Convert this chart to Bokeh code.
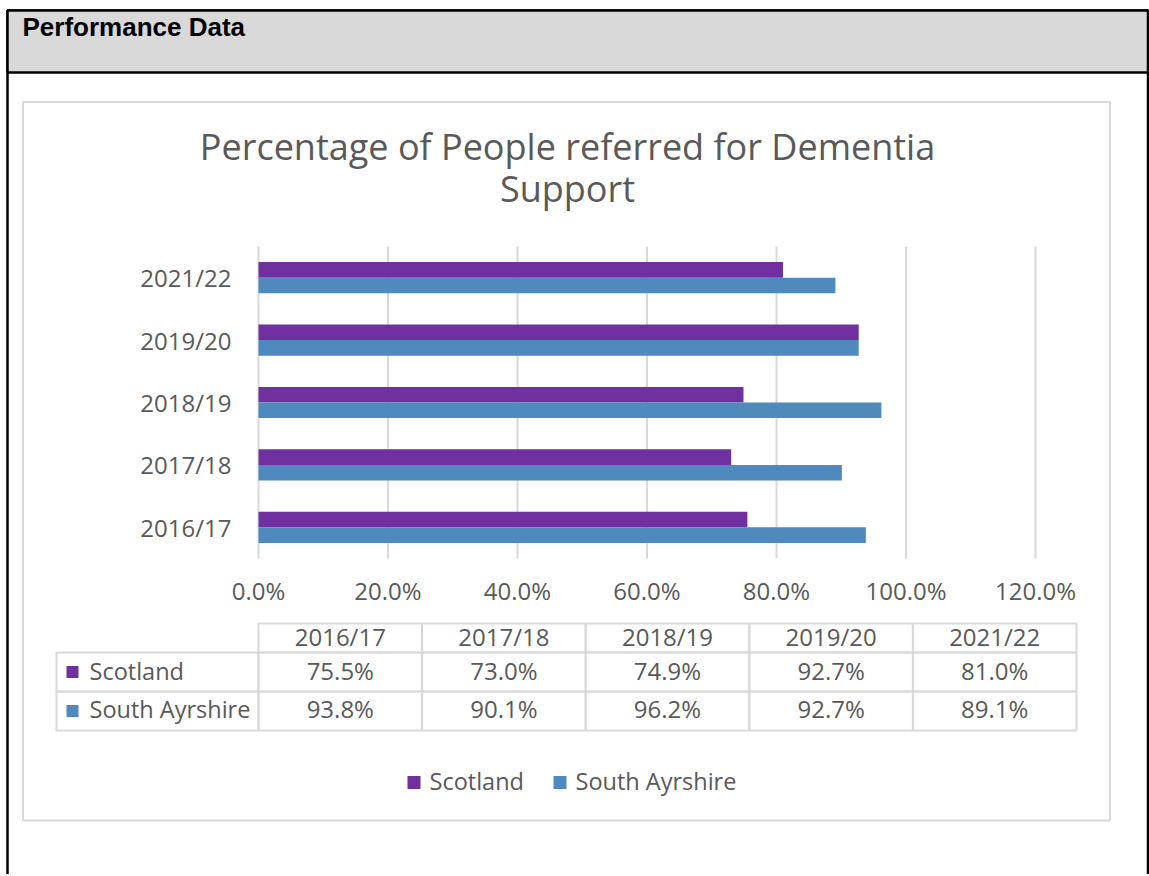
from bokeh.plotting import figure
from bokeh.models import (Range1d, LinearAxis, FixedTicker, ColumnDataSource,
                          PrintfTickFormatter)
from bokeh.core.properties import value
from bokeh.transform import dodge
from bokeh.embed import file_html
from bokeh.resources import INLINE

# ---------------- data ----------------
categories = ["2016/17", "2017/18", "2018/19", "2019/20", "2021/22"]
scotland = [75.5, 73.0, 74.9, 92.7, 81.0]
south_ayrshire = [93.8, 90.1, 96.2, 92.7, 89.1]
series_names = ["Scotland", "South Ayrshire"]
series_colors = ["#7030A0", "#4F89BD"]
x_ticks = [0, 20, 40, 60, 80, 100, 120]
chart_title = ["Percentage of People referred for Dementia", "Support"]
header_text = "Performance Data"

# ---------------- layout constants (pixels, top-left origin) ----------------
W, H = 1149, 874
TXT = "#595959"
GRID = "#D9D9D9"
FONT = "Open Sans"
PLOT_L, PLOT_R = 258.0, 1035.0      # x pixel of 0% and 120%
PLOT_T, PLOT_B = 246.0, 558.0       # top / bottom of the category bands
XMAX = 120.0
N = len(categories)
px_per_x = (PLOT_R - PLOT_L) / XMAX
band = (PLOT_B - PLOT_T) / N
# data y of category i is i (band centre); pixel = PLOT_B - band*(y+0.5)
x_start = -PLOT_L / px_per_x
x_end = (W - PLOT_L) / px_per_x
y_end = (PLOT_B - 0) / band - 0.5
y_start = (PLOT_B - H) / band - 0.5

p = figure(width=W, height=H,
           x_range=Range1d(x_start, x_end), y_range=Range1d(y_start, y_end),
           x_axis_location=None, y_axis_location=None,
           output_backend="svg", toolbar_location=None, min_border=0)
p.extra_x_ranges = {"px": Range1d(0, W)}
p.extra_y_ranges = {"px": Range1d(H, 0)}
p.outline_line_color = None
p.grid.visible = False
p.background_fill_color = "white"
p.border_fill_color = "white"

# ---------------- gridlines + bars ----------------
p.segment(x0="t", x1="t", y0=-0.5, y1=N - 0.5,
          source=ColumnDataSource(dict(t=x_ticks)), line_color=GRID, line_width=2)

src = ColumnDataSource(dict(idx=list(range(N)), scot=scotland, sa=south_ayrshire))
p.hbar(y=dodge("idx", 0.125), right="scot", left=0, height=0.25,
       source=src, fill_color=series_colors[0], line_color=None)
p.hbar(y=dodge("idx", -0.125), right="sa", left=0, height=0.25,
       source=src, fill_color=series_colors[1], line_color=None)

# ---------------- axes (library axes, fixed inside the canvas) ----------------
xaxis = LinearAxis(fixed_location=-0.5, ticker=FixedTicker(ticks=x_ticks),
                   formatter=PrintfTickFormatter(format="%.1f%%"), bounds=(0, XMAX))
yaxis = LinearAxis(fixed_location=0, ticker=FixedTicker(ticks=list(range(N))),
                   major_label_overrides={i: c for i, c in enumerate(categories)},
                   bounds=(-0.5, N - 0.5))
for ax in (xaxis, yaxis):
    ax.axis_line_color = None
    ax.major_tick_line_color = None
    ax.minor_tick_line_color = None
    ax.major_tick_out = 0
    ax.major_tick_in = 0
    ax.major_label_text_font = FONT
    ax.major_label_text_font_size = "24px"
    ax.major_label_text_color = TXT
xaxis.major_label_standoff = 15
yaxis.major_label_standoff = 27
p.add_layout(xaxis, "below")
p.add_layout(yaxis, "left")


# ---------------- helpers in pixel space ----------------
def quads(l, t, r, b, fill=None, line=None, lw=2):
    p.quad(left=l, right=r, top=t, bottom=b, x_range_name="px", y_range_name="px",
           fill_color=fill, fill_alpha=1 if fill else 0,
           line_color=line, line_alpha=1 if line else 0, line_width=lw)


def texts(x, y, t, size, color=TXT, align="left", baseline="middle", font=FONT, style="normal"):
    p.text(x=x, y=y, text=t, x_range_name="px", y_range_name="px",
           text_font=value(font), text_font_size=value(size), text_color=color,
           text_align=align, text_baseline=baseline, text_font_style=style)


# outer page box + header band
quads([7], [10], [1147.5], [H + 20], line="black", lw=2.5)
quads([7], [10], [1147.5], [72], fill="#D9D9D9", line="black", lw=2.5)
texts([22], [26], [header_text], "26px", color="black",
      font="Liberation Sans", style="bold")

# chart area border
quads([22.5], [101.5], [1109.5], [820], line=GRID, lw=2)

# chart title (two lines)
texts([567, 567], [145.5, 187.5], chart_title, "36px", align="center")

# data table
TAB_L, TAB_R = 56.0, 1076.0
row_edges = [623.0, 652.0, 691.0, 730.0]
row_text_y = [636.0, 670.0, 708.0]
col_edges = [PLOT_L + i * (TAB_R - PLOT_L) / N for i in range(N + 1)]
col_mid = [(a + b) / 2 for a, b in zip(col_edges[:-1], col_edges[1:])]
quads(col_edges[:-1], [row_edges[0]] * N, col_edges[1:], [row_edges[1]] * N, line=GRID)
texts(col_mid, [row_text_y[0]] * N, categories, "24px", align="center")
series_vals = [scotland, south_ayrshire]
for r in range(2):
    t, b = row_edges[r + 1], row_edges[r + 2]
    mid = (t + b) / 2
    quads([TAB_L] + col_edges[:-1], [t] * (N + 1), [col_edges[0]] + col_edges[1:],
          [b] * (N + 1), line=GRID)
    quads([66], [mid - 6], [78], [mid + 6], fill=series_colors[r])
    texts([89], [row_text_y[r + 1]], [series_names[r]], "23.5px")
    texts(col_mid, [row_text_y[r + 1]] * N, [f"{v:.1f}%" for v in series_vals[r]],
          "24px", align="center")

# bottom legend
LEG_Y = 782.0
for sx, tx, name, col in zip([407, 553], [429, 575], series_names, series_colors):
    quads([sx], [LEG_Y - 6.5], [sx + 13], [LEG_Y + 6.5], fill=col)
    texts([tx], [LEG_Y - 1.5], [name], "23.5px")

open("out.html", "w").write(file_html(p, INLINE))
